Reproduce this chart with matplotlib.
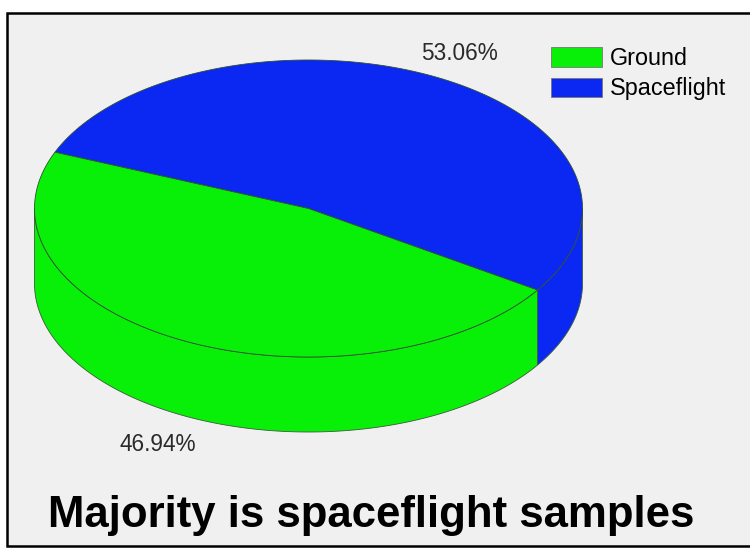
import numpy as np
import matplotlib
matplotlib.use("Agg")
import matplotlib.pyplot as plt
from matplotlib.patches import Polygon, Rectangle, Patch

plt.rcParams['font.family'] = ['Liberation Sans', 'DejaVu Sans']

# ---- data ----
categories = ['Spaceflight', 'Ground']
values = [53.06, 46.94]
colors = ['#0a28f2', '#08f008']
legend_order = ['Ground', 'Spaceflight']
title = 'Majority is spaceflight samples'

# ---- geometry (pixel space) ----
W, H = 750, 548
cx, cy = 308.5, 208.5
rx, ry = 274.0, 148.5
depth = 75.0
start_angle = -33.3

fig = plt.figure(figsize=(W / 100, H / 100), dpi=100, facecolor='white')
ax = fig.add_axes([0, 0, 1, 1])
ax.set_xlim(0, W)
ax.set_ylim(H, 0)
ax.axis('off')

# panel background with border
ax.add_patch(Rectangle((7, 13), W + 5, 533, facecolor='#f0f0f0',
                       edgecolor='black', linewidth=1.8, zorder=0))


def ell(theta_deg, dy=0.0):
    t = np.radians(theta_deg)
    return cx + rx * np.cos(t), cy - ry * np.sin(t) + dy


total = float(sum(values))
bounds = start_angle + np.concatenate([[0], np.cumsum(values)]) / total * 360.0

# side walls (front half only: angles where sin <= 0)
for i, (a, b) in enumerate(zip(bounds[:-1], bounds[1:])):
    for k in range(-2, 3):
        lo = max(a, 180 + 360 * k)
        hi = min(b, 360 + 360 * k)
        if hi > lo:
            t = np.linspace(lo, hi, 200)
            xt, yt = ell(t)
            xb, yb = ell(t[::-1], depth)
            pts = np.column_stack([np.concatenate([xt, xb]),
                                   np.concatenate([yt, yb])])
            ax.add_patch(Polygon(pts, closed=True, facecolor=colors[i],
                                 edgecolor='#3a5a3a', linewidth=0.6, zorder=1))

# top faces
for i, (a, b) in enumerate(zip(bounds[:-1], bounds[1:])):
    t = np.linspace(a, b, 300)
    xt, yt = ell(t)
    pts = np.column_stack([np.concatenate([[cx], xt]),
                           np.concatenate([[cy], yt])])
    ax.add_patch(Polygon(pts, closed=True, facecolor=colors[i],
                         edgecolor='#2f4f2f', linewidth=0.6, zorder=2))

# percentage labels
for i, (a, b) in enumerate(zip(bounds[:-1], bounds[1:])):
    mid = (a + b) / 2
    k = 1.18
    t = np.radians(mid)
    x = cx + k * rx * np.cos(t)
    y = cy - k * ry * np.sin(t)
    if np.sin(t) < 0:
        y += depth + 6
    ax.text(x, y, f'{values[i]:.2f}%', ha='center', va='center',
            fontsize=16.3, color='#2a2a2a', zorder=3)

# legend
handles = [Patch(facecolor=colors[categories.index(n)], edgecolor='#777777',
                 linewidth=0.6, label=n) for n in legend_order]
ax.legend(handles=handles, loc='upper left', bbox_to_anchor=(544 / W, 1 - 40 / H),
          frameon=False, fontsize=16.8, handlelength=2.2, handleheight=0.9,
          handletextpad=0.33, labelspacing=0.32, borderaxespad=0, borderpad=0.3)

# title
ax.text(371.5, 516, title, ha='center', va='center', fontsize=31.5,
        fontweight='bold', color='black', zorder=3)

fig.savefig('out.png', dpi=100, facecolor='white')
